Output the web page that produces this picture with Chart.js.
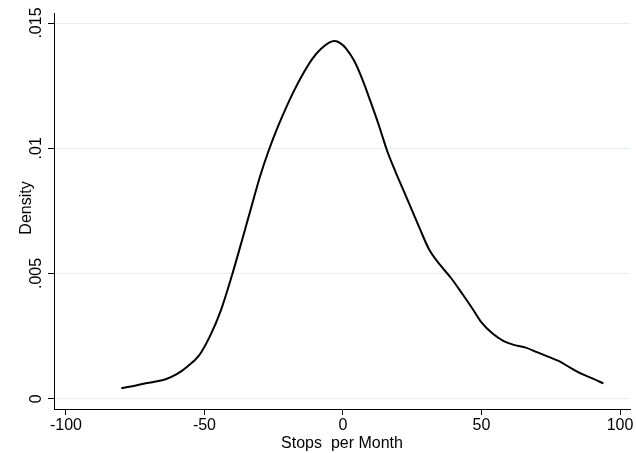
<!DOCTYPE html>
<html>
<head>
<meta charset="utf-8">
<script src="https://cdn.jsdelivr.net/npm/chart.js@4.4.0/dist/chart.umd.min.js"></script>
<style>
  html, body { margin: 0; padding: 0; background: #fff; }
  #wrap { width: 636px; height: 453px; }
</style>
</head>
<body>
<div id="wrap"><canvas id="densityChart" width="636" height="453"></canvas></div>
<script>
// Kernel density of stops per month
const stopsX = [-80, -76, -72, -68, -64, -60, -56, -52, -48, -44, -40, -36, -33, -30, -27, -24, -21, -18, -14, -11, -8, -5, -3, -1, 1, 4, 7, 10, 13, 16, 19, 22, 25, 28, 31, 35, 39, 43, 47, 50, 54, 58, 62, 66, 70, 74, 78, 82, 86, 90, 94];
const densityY = [0.00042, 0.00050, 0.00060, 0.00068, 0.00078, 0.00098, 0.00130, 0.00172, 0.00250, 0.00355, 0.00495, 0.00650, 0.00768, 0.00885, 0.00985, 0.01072, 0.01150, 0.01222, 0.01305, 0.01358, 0.01396, 0.01422, 0.01428, 0.01420, 0.01400, 0.01350, 0.01275, 0.01185, 0.01090, 0.00988, 0.00905, 0.00828, 0.00750, 0.00672, 0.00598, 0.00535, 0.00482, 0.00420, 0.00355, 0.00305, 0.00260, 0.00230, 0.00214, 0.00204, 0.00186, 0.00168, 0.00150, 0.00124, 0.00100, 0.00081, 0.00061];

const xTicks = [-100, -50, 0, 50, 100];
const yTicks = [0, 0.005, 0.01, 0.015];
const yTickLabels = ['0', '.005', '.01', '.015'];

const FONT = "'Liberation Sans', Arial, sans-serif";

// y labels in Stata are turned 90 degrees, so they are drawn by hand
const verticalYLabels = {
    id: 'verticalYLabels',
    afterDraw(chart) {
        const ctx = chart.ctx;
        const yScale = chart.scales.y;
        ctx.save();
        ctx.fillStyle = '#000';
        ctx.font = '16px ' + FONT;
        ctx.textAlign = 'center';
        ctx.textBaseline = 'alphabetic';
        yTicks.forEach(function(v, i) {
            const py = yScale.getPixelForValue(v);
            ctx.save();
            ctx.translate(41, py);
            ctx.rotate(-Math.PI / 2);
            ctx.fillText(yTickLabels[i], 0, 0);
            ctx.restore();
        });
        // axis title
        ctx.translate(31, 208);
        ctx.rotate(-Math.PI / 2);
        ctx.fillText('Density', 0, 0);
        ctx.restore();
    }
};

const points = stopsX.map(function(x, i) { return { x: x, y: densityY[i] }; });

new Chart(document.getElementById('densityChart').getContext('2d'), {
    type: 'scatter',
    data: {
        datasets: [{
            data: points,
            showLine: true,
            borderColor: '#000',
            borderWidth: 2,
            pointRadius: 0,
            cubicInterpolationMode: 'monotone',
            fill: false
        }]
    },
    options: {
        responsive: false,
        animation: false,
        layout: { padding: { top: 13, right: 6, left: 0, bottom: 0 } },
        plugins: {
            legend: { display: false },
            tooltip: { enabled: false }
        },
        scales: {
            x: {
                type: 'linear',
                min: -104.3,
                max: 103.6,
                afterBuildTicks: function(scale) {
                    scale.ticks = xTicks.map(function(v) { return { value: v }; });
                },
                afterFit: function(scale) { scale.height = 44; },
                grid: {
                    drawOnChartArea: false,
                    drawTicks: true,
                    tickLength: 6,
                    tickColor: '#000'
                },
                border: { display: true, color: '#000', width: 1 },
                ticks: {
                    color: '#000',
                    font: { size: 16, family: FONT },
                    padding: 1,
                    maxRotation: 0,
                    autoSkip: false
                },
                title: {
                    display: true,
                    text: 'Stops  per Month',
                    color: '#000',
                    font: { size: 16, family: FONT },
                    padding: { top: 0, bottom: 0 }
                }
            },
            y: {
                type: 'linear',
                min: -0.00041,
                max: 0.0154,
                afterBuildTicks: function(scale) {
                    scale.ticks = yTicks.map(function(v) { return { value: v }; });
                },
                afterFit: function(scale) { scale.width = 54; },
                grid: {
                    color: '#e6eef0',
                    lineWidth: 1,
                    drawTicks: true,
                    tickLength: 6,
                    tickColor: '#000'
                },
                border: { display: true, color: '#000', width: 1 },
                ticks: { display: false }
            }
        }
    },
    plugins: [verticalYLabels]
});
</script>
</body>
</html>
